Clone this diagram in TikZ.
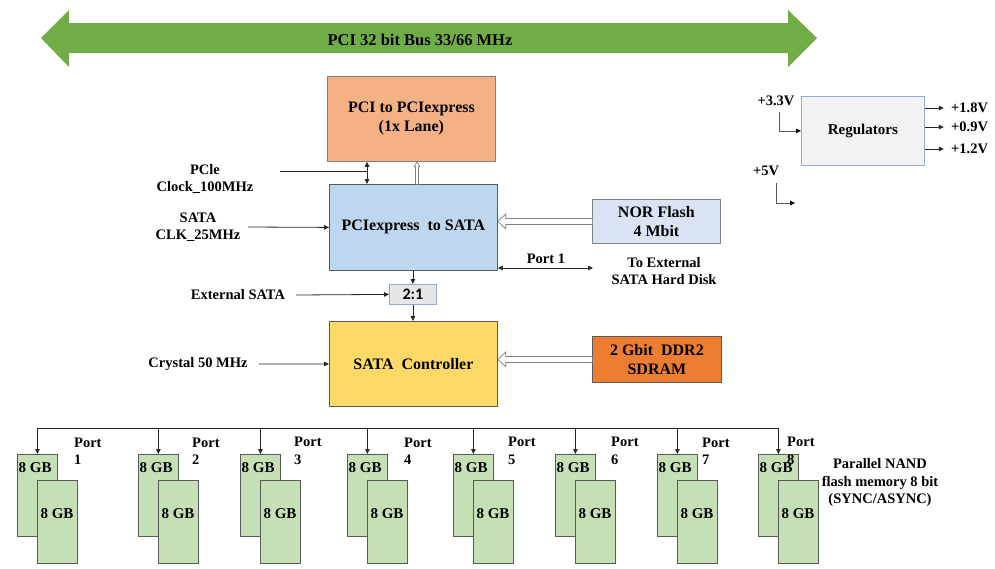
\documentclass[tikz,border=0pt]{standalone}
\usepackage{fontspec}
\setmainfont{Liberation Serif}
\newfontfamily\calibfont{Carlito}
\usetikzlibrary{arrows.meta,calc}
\definecolor{busgreen}{HTML}{70AD47}
\definecolor{orangelt}{HTML}{F4B183}
\definecolor{bluelt}{HTML}{BDD7EE}
\definecolor{norblue}{HTML}{DAE3F3}
\definecolor{yellowc}{HTML}{FFD966}
\definecolor{ddrorange}{HTML}{ED7D31}
\definecolor{greenbox}{HTML}{C5E0B4}
\definecolor{reggray}{HTML}{F2F2F2}
\definecolor{muxgray}{HTML}{E7E6E6}
\definecolor{edgeblue}{HTML}{8FAADC}
\definecolor{edgegray}{HTML}{595959}
\definecolor{linec}{HTML}{262626}
\newcommand{\myBoxFont}{\fontsize{16}{19}\selectfont\bfseries}
\newcommand{\myLblFont}{\fontsize{14.5}{17.5}\selectfont\bfseries}
\begin{document}
\begin{tikzpicture}[x=1pt,y=-1pt,
  blk/.style={rectangle, inner sep=0pt, anchor=north west, align=center, line width=0.8pt, font=\myBoxFont},
  lbl/.style={inner sep=0pt, align=center, font=\myLblFont},
  conn/.style={draw=linec, line width=0.8pt, -{Triangle[length=5pt,width=4.5pt]}},
  dconn/.style={draw=linec, line width=0.8pt, {Triangle[length=5pt,width=4.5pt]}-{Triangle[length=5pt,width=4.5pt]}},
  plain/.style={draw=linec, line width=0.8pt},
  grayconn/.style={draw=edgegray, line width=0.8pt, -{Triangle[length=5pt,width=4.5pt,color=black]}},
  hollow/.style={draw=gray, fill=white, line width=0.7pt, line join=miter}]
\useasboundingbox (0,0) rectangle (995,568);

% PCI bus arrow
\fill[busgreen] (41,38) -- (69,10) -- (69,23) -- (788,23) -- (788,10) -- (817,38)
  -- (788,67) -- (788,53) -- (69,53) -- (69,67) -- cycle;
\node[lbl, font=\fontsize{16.5}{19}\selectfont\bfseries] (bustxt) at (420,40) {PCI 32 bit Bus 33/66 MHz};

% main boxes
\node[blk, draw=gray, fill=orangelt, minimum width=168pt, minimum height=85pt] (p2pe) at (327,76)
  {PCI to PCIexpress\\(1x Lane)};
\node[blk, draw=edgegray, fill=bluelt, minimum width=168pt, minimum height=86pt] (pe2s) at (329,184)
  {PCIexpress\ \ to SATA};
\node[blk, draw=gray, fill=norblue, minimum width=128pt, minimum height=44pt] (nor) at (592,199)
  {NOR Flash\\4 Mbit};
\node[blk, draw=edgeblue, fill=muxgray, minimum width=47pt, minimum height=20pt,
  font=\calibfont\fontsize{16}{19}\selectfont\bfseries] (mux) at (389,284) {2:1};
\node[blk, draw=edgegray, fill=yellowc, minimum width=168pt, minimum height=85pt] (ctrl) at (329,321)
  {SATA\ \ Controller};
\node[blk, draw=edgegray, fill=ddrorange, minimum width=129pt, minimum height=46pt] (ddr) at (592,336)
  {2 Gbit\ \ DDR2\\SDRAM};
\node[blk, draw=edgeblue, fill=reggray, minimum width=123pt, minimum height=69pt,
  font=\fontsize{15}{18}\selectfont\bfseries] (reg) at (801,96) {Regulators};

% labels on the left
\node[lbl] (pcieclk) at (205,179) {PCle\\Clock\_100MHz};
\coordinate (clkS) at (280,171);
\coordinate (c1) at (367,171);
\node[lbl] (sataclk) at (198,227) {SATA\\CLK\_25MHz};
\coordinate (sclkS) at (248,227);
\node[lbl] (extsata) at (238,295) {External SATA};
\coordinate (extS) at (296,295);
\node[lbl] (crystal) at (198,364) {Crystal 50 MHz};
\coordinate (crysS) at (259,364);

% connectors, top part
\draw[dconn] (p2pe.south -| c1) -- (pe2s.north -| c1);
\draw[plain] (clkS) -- (c1);
\draw[conn] (sclkS) -- (pe2s.west);
\coordinate (vx) at (417,172);
\draw[hollow] ($(pe2s.north -| vx)+(-1.5,0)$) -- ($(p2pe.south -| vx)+(-1.5,5)$) -- ($(p2pe.south -| vx)+(-3,5)$)
  -- (p2pe.south -| vx) -- ($(p2pe.south -| vx)+(3,5)$) -- ($(p2pe.south -| vx)+(1.5,5)$) -- ($(pe2s.north -| vx)+(1.5,0)$);
% NOR -> PCIe to SATA
\draw[hollow] ($(nor.west)+(0,-3)$) -- ($(pe2s.east |- nor.west)+(8,-3)$) -- ($(pe2s.east |- nor.west)+(8,-7.5)$)
  -- (pe2s.east |- nor.west) -- ($(pe2s.east |- nor.west)+(8,7.5)$) -- ($(pe2s.east |- nor.west)+(8,3)$) -- ($(nor.west)+(0,3)$);
% Port 1
\coordinate (hdd) at (593,268);
\draw[dconn] (pe2s.east |- hdd) -- (hdd);
\node[lbl] (port1t) at (546,259) {Port 1};
\node[lbl] (hddtxt) at (664,271) {To External\\SATA Hard Disk};
% mux
\draw[conn] (mux.north |- pe2s.south) -- (mux.north);
\draw[conn] (extS) -- (mux.west);
\draw[conn] (mux.south) -- (mux.south |- ctrl.north);
\draw[conn] (crysS) -- (ctrl.west);
% DDR -> controller
\draw[hollow] ($(ddr.west)+(0,-3)$) -- ($(ctrl.east |- ddr.west)+(8,-3)$) -- ($(ctrl.east |- ddr.west)+(8,-7.5)$)
  -- (ctrl.east |- ddr.west) -- ($(ctrl.east |- ddr.west)+(8,7.5)$) -- ($(ctrl.east |- ddr.west)+(8,3)$) -- ($(ddr.west)+(0,3)$);

% regulators
\node[lbl] (v33) at (776,101) {+3.3V};
\coordinate (v33s) at (779,112);
\draw[grayconn] (v33s) |- (reg.west);
\node[lbl] (v5) at (766,171) {+5V};
\coordinate (v5s) at (776,183);
\coordinate (v5e) at (795,203);
\draw[grayconn] (v5s) |- (v5e);
\foreach \n/\y/\t in {a/108/+1.8V, b/127/+0.9V, c/149/+1.2V}{
  \node[lbl, anchor=west] (out\n) at (951,\y) {\t};
  \draw[conn] (reg.east |- out\n.west) -- ++(19,0);
}

% bus to NAND
\coordinate (busY) at (415,428);
\draw[plain] ($(ctrl.south)+(2,0)$) -- ($(ctrl.south)+(2,0)$ |- busY);
\foreach \i/\x/\px in {1/17/74, 2/138/192, 3/240/294, 4/347/404, 5/453/508, 6/555/611, 7/657/702, 8/758/787}{
  \node[blk, draw=edgegray, fill=greenbox, minimum width=40pt, minimum height=82pt] (bk\i) at (\x,454) {};
  \node[lbl, anchor=north west, font=\fontsize{15}{18}\selectfont\bfseries] (bkt\i) at (\x+1.5,462) {8 GB};
  \node[blk, draw=edgegray, fill=greenbox, minimum width=40pt, minimum height=83pt] (fr\i) at (\x+20,480) {};
  \node[lbl, font=\fontsize{15}{18}\selectfont\bfseries] (frt\i) at (\x+40,514) {8 GB};
  \node[lbl, anchor=west, align=left] (port\i) at (\px,451) {Port\\\i};
  \draw[conn] (bk\i.north |- busY) -- (bk\i.north);
}
\draw[plain] (bk1.north |- busY) -- (bk8.north |- busY);
\node[lbl] (nandtxt) at (880,483) {Parallel NAND\\flash memory 8 bit\\(SYNC/ASYNC)};
\end{tikzpicture}
\end{document}
